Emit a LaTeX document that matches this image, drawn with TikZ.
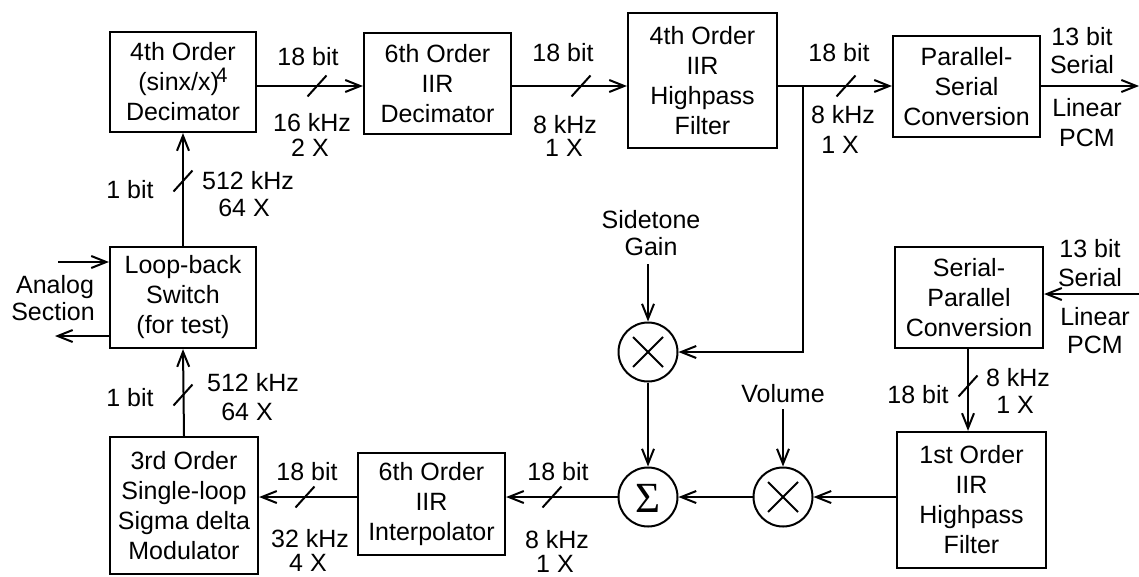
\documentclass[tikz,border=0pt]{standalone}
\usepackage{fontspec}
\setmainfont{Liberation Sans}
\newfontfamily\sigfont{Liberation Serif}
\usetikzlibrary{arrows.meta,calc}
\newcommand{\fsz}{\fontsize{25}{30}\selectfont}
\begin{document}
\begin{tikzpicture}[x=1pt,y=-1pt,
  blk/.style={draw, line width=2.2pt, inner sep=0pt, align=center, font=\fsz},
  lbl/.style={inner sep=0pt, align=center, font=\fsz},
  con/.style={line width=2pt},
  arr/.style={con, -{Straight Barb[length=15pt,width=12pt,line width=2pt]}},
  slashmark/.style={line width=2pt},
  op/.style={draw, circle, line width=2pt, minimum size=59pt, inner sep=0pt}]
\useasboundingbox (0,0) rectangle (1139,576);
% blocks
\node[blk, minimum width=146pt, minimum height=100pt] (A) at (183,82)
  {4th Order\\(sinx/x)\kern-3pt\raisebox{8pt}{\fontsize{21}{21}\selectfont 4}\\Decimator};
\node[blk, minimum width=147pt, minimum height=101pt] (B) at (437.5,83.5) {6th Order\\IIR\\Decimator};
\node[blk, minimum width=149pt, minimum height=135pt] (C) at (702.5,80.5) {4th Order\\IIR\\Highpass\\Filter};
\node[blk, minimum width=147pt, minimum height=101pt] (D) at (966.5,86.5) {Parallel-\\Serial\\Conversion};
\node[blk, minimum width=146pt, minimum height=101pt] (E) at (183,297.5) {Loop-back\\Switch\\(for test)};
\node[blk, minimum width=148pt, minimum height=137pt] (F) at (184,505.5) {3rd Order\\Single-loop\\Sigma delta\\Modulator};
\node[blk, minimum width=147pt, minimum height=102pt] (G) at (431.5,504) {6th Order\\IIR\\Interpolator};
\node[blk, minimum width=148pt, minimum height=101pt] (H) at (969,297.5) {Serial-\\Parallel\\Conversion};
\node[blk, minimum width=149pt, minimum height=136pt] (I) at (971.5,500) {1st Order\\IIR\\Highpass\\Filter};
% operators
\node[op] (m1) at (648,352) {};
\node[op] (sig) at (648,497) {};
\node[inner sep=0pt, font=\sigfont\fontsize{43}{43}\selectfont] (sigsym) at (648,498) {Σ};
\node[op] (m2) at (783,497) {};
\draw[con] ([shift={(-15,-15)}]m1.center) -- ([shift={(15,15)}]m1.center);
\draw[con] ([shift={(-15,15)}]m1.center) -- ([shift={(15,-15)}]m1.center);
\draw[con] ([shift={(-15,-15)}]m2.center) -- ([shift={(15,15)}]m2.center);
\draw[con] ([shift={(-15,15)}]m2.center) -- ([shift={(15,-15)}]m2.center);
% helper coordinates
\coordinate (r1) at (0,86);
\coordinate (r2) at (0,497);
\coordinate (outD) at (1139,86);
\coordinate (br) at (803,86);
\coordinate (ain) at (58,262);
\coordinate (aout) at (55,336);
\coordinate (sgb) at (648,264);
\coordinate (vtop) at (783,409);
\coordinate (sin) at (1139,294);
\coordinate (c4) at (968,0);
% connectors
\draw[arr] (A.east |- r1) -- (B.west |- r1);
\draw[arr] (B.east |- r1) -- (C.west |- r1);
\draw[arr] (C.east |- r1) -- (D.west |- r1);
\draw[arr] (D.east |- r1) -- (outD);
\draw[arr] (br) |- (m1.east);
\draw[arr] (E.north) -- (A.south);
\draw[arr] (F.north) -- (E.south);
\draw[arr] (ain) -- (ain -| E.west);
\draw[arr] (aout -| E.west) -- (aout);
\draw[arr] (sgb) -- (m1.north);
\draw[arr] (m1.south) -- (sig.north);
\draw[arr] (I.west |- r2) -- (m2.east);
\draw[arr] (m2.west) -- (sig.east);
\draw[arr] (sig.west) -- (G.east |- r2);
\draw[arr] (G.west |- r2) -- (F.east |- r2);
\draw[arr] (vtop) -- (m2.north);
\draw[arr] (sin) -- (sin -| H.east);
\draw[arr] (H.south -| c4) -- (I.north -| c4);
% bus slashes
\foreach \p in {(317,86),(581,86),(846,86),(183,181),(183,395),(305,497),(552,497),(968,386)}
  \draw[slashmark] \p ++(-9.5,10.5) -- ++(19,-21);
% labels
\node[lbl] at (308,57) {18 bit};
\node[lbl] at (312,123) {16 kHz};
\node[lbl] at (310,148) {2 X};
\node[lbl] at (130,190) {1 bit};
\node[lbl] at (248,181) {512 kHz};
\node[lbl] at (244,208) {64 X};
\node[lbl] at (563,53) {18 bit};
\node[lbl] at (565,125) {8 kHz};
\node[lbl] at (564,148) {1 X};
\node[lbl] at (839,53) {18 bit};
\node[lbl] at (843,115) {8 kHz};
\node[lbl] at (840,145) {1 X};
\node[lbl] at (1082,37) {13 bit};
\node[lbl] at (1082,65) {Serial};
\node[lbl] at (1087,108) {Linear};
\node[lbl] at (1087,138) {PCM};
\node[lbl] at (55,287) {Analog};
\node[lbl] at (53,312) {Section};
\node[lbl] at (651,220) {Sidetone};
\node[lbl] at (651,247) {Gain};
\node[lbl] at (1090,249) {13 bit};
\node[lbl] at (1090,278) {Serial};
\node[lbl] at (1095,317) {Linear};
\node[lbl] at (1095,345) {PCM};
\node[lbl] at (783,394) {Volume};
\node[lbl] at (918,395) {18 bit};
\node[lbl] at (1018,378) {8 kHz};
\node[lbl] at (1015,405) {1 X};
\node[lbl] at (130,398) {1 bit};
\node[lbl] at (253,383) {512 kHz};
\node[lbl] at (247,412) {64 X};
\node[lbl] at (307,472) {18 bit};
\node[lbl] at (310,539) {32 kHz};
\node[lbl] at (308,563) {4 X};
\node[lbl] at (558,472) {18 bit};
\node[lbl] at (557,540) {8 kHz};
\node[lbl] at (555,564) {1 X};
\end{tikzpicture}
\end{document}
